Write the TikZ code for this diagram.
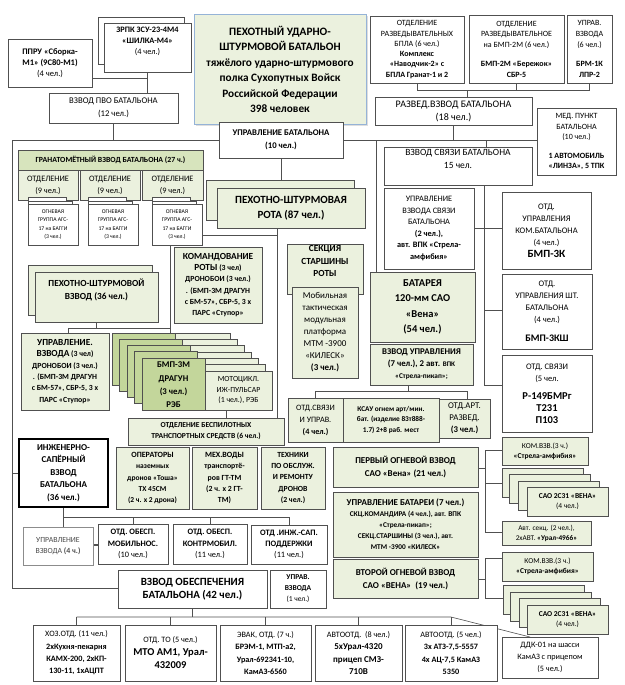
\documentclass[tikz,border=0pt]{standalone}
\usepackage{fontspec}
\setmainfont{Carlito}
\usetikzlibrary{backgrounds,shadows}
\definecolor{gl}{HTML}{EBF1DE}
\definecolor{gm}{HTML}{D7E4BD}
\definecolor{gd}{HTML}{C3D69B}
\definecolor{bd}{HTML}{505050}
\definecolor{tb}{HTML}{95B3D7}
\newcommand{\fsz}[2]{\fontsize{#1}{#2}\selectfont}
\newcommand{\obox}[7]{%
  \pgfmathsetmacro{\obw}{#4-#2}\pgfmathsetmacro{\obh}{#5-#3}%
  \node[#6, minimum width=\obw pt, minimum height=\obh pt] (#1) at ({(#2+#4)/2},{(#3+#5)/2}) {#7};}
\tikzset{
  bx/.style={draw=bd, line width=0.6pt, fill=white, align=center, inner sep=1pt, outer sep=0pt, text=black},
  wb/.style={bx},
  gb/.style={bx, fill=gl},
  mb/.style={bx, fill=gm},
  db/.style={bx, fill=gd},
  ln/.style={draw=bd, line width=0.6pt},
}
\begin{document}
\begin{tikzpicture}[x=1pt,y=-1pt]
\useasboundingbox (0,0) rectangle (624,685);

% ---------- top left
\obox{ppru}{8}{39}{92}{87}{wb,font=\fsz{8.5}{11}}{\textbf{ППРУ «Сборка-}\\\textbf{М1» (9С80-М1)}\\(4 чел.)}
\obox{zrpkb}{98}{17}{184}{64}{wb}{}
\obox{zrpk}{104}{23}{191}{72}{wb,font=\fsz{8.3}{11}}{\textbf{ЗРПК ЗСУ-23-4М4}\\\textbf{«ШИЛКА-М4»}\\(4 чел.)\\[3pt]}
\obox{pvo}{49}{93}{178}{123}{wb,font=\fsz{8.7}{13}}{ВЗВОД ПВО БАТАЛЬОНА\\(12 чел.)}

% ---------- title
\obox{title}{194}{15}{366}{124}{bx,fill=gl,draw=tb,line width=1pt,drop shadow={shadow xshift=1.5pt,shadow yshift=-1.5pt,fill=black!25},font=\fsz{11.3}{15.5}\bfseries}{ПЕХОТНЫЙ УДАРНО-\\ШТУРМОВОЙ БАТАЛЬОН\\тяжёлого ударно-штурмового\\полка Сухопутных Войск\\Российской Федерации\\398 человек}
\obox{uprbat}{219}{122}{343}{158}{wb,font=\fsz{8.7}{13}\bfseries}{УПРАВЛЕНИЕ БАТАЛЬОНА\\(10 чел.)}

% ---------- top right
\obox{bpla}{370}{16}{464}{83}{wb,font=\fsz{8}{10.3}}{ОТДЕЛЕНИЕ\\РАЗВЕДЫВАТЕЛЬНЫХ\\БПЛА (6 чел.)\\\textbf{Комплекс}\\\textbf{«Наводчик-2» с}\\\textbf{БПЛА Гранат-1 и 2}}
\obox{bmp2}{469}{15}{564}{83}{wb,font=\fsz{8}{10.5}}{ОТДЕЛЕНИЕ\\РАЗВЕДЫВАТЕЛЬНОЕ\\на БМП-2М (6 чел.)\\[9pt]\textbf{БМП-2М «Бережок»}\\\textbf{СБР-5}}
\obox{upr6}{567}{15}{612}{83}{wb,font=\fsz{8}{11}}{УПРАВ.\\ВЗВОДА\\(6 чел.)\\[8pt]\textbf{БРМ-1К}\\\textbf{ЛПР-2}}
\obox{razved}{375}{97}{532}{125}{wb,font=\fsz{10}{13}}{РАЗВЕД.ВЗВОД БАТАЛЬОНА\\(18 чел.)}
\obox{med}{537}{108}{616}{175}{wb,font=\fsz{8}{10.5}}{МЕД. ПУНКТ\\БАТАЛЬОНА\\(10 чел.)\\[8pt]\textbf{1 АВТОМОБИЛЬ}\\\textbf{«ЛИНЗА», 5 ТПК}}
\obox{svyaz}{384}{147}{532}{185}{wb,font=\fsz{9.5}{13}}{ВЗВОД СВЯЗИ БАТАЛЬОНА\\15 чел.\\[2pt]}
\obox{uvs}{384}{188}{474}{269}{wb,font=\fsz{8.3}{11.5}}{УПРАВЛЕНИЕ\\ВЗВОДА СВЯЗИ\\БАТАЛЬОНА\\\textbf{(2 чел.),}\\\textbf{авт. ВПК «Стрела-}\\\textbf{амфибия»}}
\obox{okb}{502}{192}{591}{269}{wb,font=\fsz{8.5}{12}}{ОТД.\\УПРАВЛЕНИЯ\\КОМ.БАТАЛЬОНА\\(4 чел.)\\{\fsz{11}{14}\bfseries БМП-3К}}
\obox{osh}{502}{274}{592}{349}{wb,font=\fsz{8.5}{12}}{ОТД.\\УПРАВЛЕНИЯ ШТ.\\БАТАЛЬОНА\\(4 чел.)\\[7pt]{\fsz{10}{12}\bfseries БМП-3КШ}}
\obox{ots}{502}{355}{592}{432}{wb,font=\fsz{8.5}{12}}{ОТД. СВЯЗИ\\(5 чел.\\[6pt]{\fsz{10.5}{13}\bfseries Р-149БМРг}\\{\fsz{10.5}{13}\bfseries Т231}\\{\fsz{10.5}{13}\bfseries П103}}

% ---------- battery
\obox{bat}{370}{272}{475}{342}{gb,font=\fsz{10.5}{15.5}\bfseries}{БАТАРЕЯ\\120-мм САО\\«Вена»\\(54 чел.)}
\obox{vupr}{370}{344}{473}{385}{gb,font=\fsz{8.8}{12}\bfseries}{ВЗВОД УПРАВЛЕНИЯ\\(7 чел.), 2 авт. {\fsz{7}{12}ВПК}\\{\fsz{7.3}{12}«Стрела-пикап»;}}
\obox{osu}{288}{398}{343}{442}{gb,font=\fsz{8.2}{12}}{ОТД.СВЯЗИ\\И УПРАВ.\\\textbf{(4 чел.)}}
\obox{ksau}{343}{398}{439}{442}{gb,font=\fsz{7.3}{10.5}\bfseries}{КСАУ огнем арт/мин.\\бат. (изделие 83т888-\\1.7) 2+8 раб. мест}
\obox{oar}{439}{399}{490}{438}{gb,font=\fsz{8.8}{12}}{ОТД.АРТ.\\РАЗВЕД.\\\textbf{(3 чел.)}}
\obox{perv}{333}{447}{478}{487}{gb,font=\fsz{9}{12.5}\bfseries}{ПЕРВЫЙ ОГНЕВОЙ ВЗВОД\\САО «Вена» (21 чел.)}
\obox{uprb}{333}{492}{478}{557}{gb,font=\fsz{7.3}{11}\bfseries}{{\fsz{9}{11}УПРАВЛЕНИЕ БАТАРЕИ (7 чел.)}\\СКЦ.КОМАНДИРА (4 чел.), авт. ВПК\\«Стрела-пикап»;\\СЕКЦ.СТАРШИНЫ (3 чел.), авт.\\МТМ -3900 «КИЛЕСК»}
\obox{vtor}{333}{559}{478}{598}{gb,font=\fsz{9}{13}\bfseries}{ВТОРОЙ ОГНЕВОЙ ВЗВОД\\САО «ВЕНА»~~(19 чел.)}
\obox{kv1}{502}{437}{588}{465}{gb,font=\fsz{7.5}{10}}{КОМ.ВЗВ.(3 ч.)\\\textbf{«Стрела-амфибия»}}
\foreach \a/\b [count=\n] in {502/468,509/474,518/481}{\obox{sa\n}{\a}{\b}{\a+81}{\b+29}{gb}{}}
\obox{sao1}{527}{487}{608}{516}{gb,font=\fsz{7.5}{10}}{\textbf{САО 2С31 «ВЕНА»}\\(4 чел.)}
\obox{avt}{502}{521}{591}{545}{gb,font=\fsz{7.3}{10}}{Авт. секц. (2 чел.),\\2хАВТ. \textbf{«Урал-4966»}}
\obox{kv2}{502}{552}{593}{581}{gb,font=\fsz{7.5}{10}}{КОМ.ВЗВ.(3 ч.)\\\textbf{«Стрела-амфибия»}}
\foreach \a/\b [count=\n] in {503/585,510/592,519/598}{\obox{sb\n}{\a}{\b}{\a+81}{\b+29}{gb}{}}
\obox{sao2}{527}{605}{608}{634}{gb,font=\fsz{7.5}{10}}{\textbf{САО 2С31 «ВЕНА»}\\(4 чел.)}

% ---------- grenade platoon
\obox{gran}{18}{150}{203}{170}{mb,font=\fsz{7.8}{10}\bfseries}{ГРАНАТОМЁТНЫЙ ВЗВОД БАТАЛЬОНА (27 ч.)}
\obox{otd1}{18}{170}{78}{200}{gb,font=\fsz{8.3}{12}}{ОТДЕЛЕНИЕ\\(9 чел.)}
\obox{otd2}{80}{170}{140}{200}{gb,font=\fsz{8.3}{12}}{ОТДЕЛЕНИЕ\\(9 чел.)}
\obox{otd3}{142}{170}{203}{200}{gb,font=\fsz{8.3}{12}}{ОТДЕЛЕНИЕ\\(9 чел.)}
\foreach \x [count=\n] in {28,88,152}{
  \obox{ogA\n}{\x-6}{197.5}{\x+44}{238.5}{wb}{}
  \obox{ogB\n}{\x-3}{201}{\x+47}{242}{wb}{}
  \obox{og\n}{\x}{204}{\x+50}{245}{wb,font=\fsz{5.7}{8.5}}{ОГНЕВАЯ\\ГРУППА АГС-\\17 на БАГГИ\\(3 чел.)}
}

% ---------- company
\obox{rotab}{206}{180}{354}{220}{gb}{}
\obox{rota}{217}{188}{365}{228}{gb,font=\fsz{11}{15}\bfseries}{ПЕХОТНО-ШТУРМОВАЯ\\РОТА (87 чел.)}
\obox{kom}{174}{247}{262}{323}{gb,font=\fsz{7.8}{11.3}\bfseries}{{\fsz{9.3}{12}КОМАНДОВАНИЕ}\\{\fsz{9.3}{12}РОТЫ} (3 чел)\\ДРОНОБОИ (3 чел.)\\. (БМП-3М ДРАГУН\\с БМ-57», СБР-5, 3 х\\ПАРС «Ступор»}
\obox{sekb}{287}{247}{363}{292}{gb,font=\fsz{9.3}{12.5}\bfseries}{СЕКЦИЯ\\СТАРШИНЫ\\РОТЫ\\[4pt]}
\obox{seki}{292}{287}{358}{378}{gb,font=\fsz{9}{12}}{Мобильная\\тактическая\\модульная\\платформа\\МТМ -3900\\«КИЛЕСК»\\\textbf{(3 чел.)}}

% ---------- infantry platoon
\obox{pshvb}{28}{265}{152}{315}{gb}{}
\obox{pshv}{35}{272}{158}{322}{gb}{}
\node[font=\fsz{9.3}{13}\bfseries,align=center] (pshvt) at (96.5,290) {ПЕХОТНО-ШТУРМОВОЙ\\ВЗВОД (36 чел.)};
\obox{uvz}{21}{333}{109}{410}{gb,font=\fsz{7.8}{11.3}\bfseries}{{\fsz{9.3}{12.3}УПРАВЛЕНИЕ.}\\{\fsz{9.3}{12.3}ВЗВОДА} (3 чел)\\ДРОНОБОИ (3 чел.)\\. (БМП-3М ДРАГУН\\с БМ-57», СБР-5, 3 х\\ПАРС «Ступор»}
\foreach \a/\b [count=\n] in {163/333,170/339.3,177/345.7,184/352,191/358.3,198/364.7}{\obox{ml\n}{\a}{\b}{\a+67}{\b+39}{gb}{}}
\foreach \a/\b [count=\n] in {112/333,119.5/339.25,127/345.5,134.5/351.75}{\obox{dl\n}{\a}{\b}{\a+63}{\b+52}{db}{}}
\obox{bmp}{142}{358}{205}{410}{db}{}
\begin{scope}
\clip (142,358) rectangle (205,410);
\node[font=\fsz{8.8}{13.3}\bfseries,align=center,anchor=north,inner sep=0pt] (bmpt) at (173.5,362) {БМП-3М\\ДРАГУН\\(3 чел.)\\РЭБ};
\end{scope}
\obox{moto}{205}{371}{272}{410}{gb,font=\fsz{7.8}{10.5}}{МОТОЦИКЛ.\\ИЖ-ПУЛЬСАР\\(1 чел.), РЭБ}

% ---------- drones
\obox{besp}{128}{418}{284}{445}{gb,font=\fsz{7.6}{11}\bfseries}{ОТДЕЛЕНИЕ БЕСПИЛОТНЫХ\\ТРАНСПОРТНЫХ СРЕДСТВ (6 чел.)}
\obox{oper}{116}{447}{189}{509}{gb,font=\fsz{7.5}{11.3}\bfseries}{{\fsz{8}{11.3}ОПЕРАТОРЫ}\\наземных\\дронов «Тоша»\\ТХ 45СМ\\(2 ч. х 2 дрона)}
\obox{meh}{192}{447}{257}{509}{gb,font=\fsz{7.8}{11.3}\bfseries}{{\fsz{8}{11.3}МЕХ.ВОДЫ}\\транспортё-\\ров ГТ-ТМ\\(2 ч. х 2 ГТ-\\ТМ)}
\obox{tech}{261}{447}{325}{509}{gb,font=\fsz{7.8}{11.3}\bfseries}{ТЕХНИКИ\\ПО ОБСЛУЖ.\\И РЕМОНТУ\\ДРОНОВ\\(2 чел.)}

% ---------- engineers
\obox{inzh}{19}{439}{108}{507}{wb,draw=black,line width=1.3pt,font=\fsz{9}{12.5}\bfseries}{ИНЖЕНЕРНО-\\САПЁРНЫЙ\\ВЗВОД\\БАТАЛЬОНА\\(36 чел.)}
\obox{upr4}{23}{527}{93}{565}{wb,draw=black!45,text=black!70,font=\fsz{7.8}{11}}{УПРАВЛЕНИЕ\\ВЗВОДА \textbf{(4 ч.)}}
\obox{mob}{98}{524}{168}{564}{wb,font=\fsz{8.3}{11.3}}{\textbf{ОТД. ОБЕСП.}\\\textbf{МОБИЛЬНОС.}\\(10 чел.)}
\obox{kmob}{173}{524}{247}{564}{wb,font=\fsz{8.3}{11.3}}{\textbf{ОТД. ОБЕСП.}\\\textbf{КОНТРМОБИЛ.}\\(11 чел.)}
\obox{isap}{251}{525}{327}{564}{wb,font=\fsz{8.3}{11.3}}{\textbf{ОТД .ИНЖ.-САП.}\\\textbf{ПОДДЕРЖКИ}\\(11 чел.)}

% ---------- support
\obox{obesp}{118}{570}{267}{608}{wb,font=\fsz{11}{13.5}\bfseries}{ВЗВОД ОБЕСПЕЧЕНИЯ\\БАТАЛЬОНА (42 чел.)}
\obox{upr1}{270}{570}{326}{608}{wb,font=\fsz{7.5}{11}}{\textbf{УПРАВ.}\\\textbf{ВЗВОДА}\\(1 чел.)}
\obox{hoz}{33}{625}{120}{681}{wb,font=\fsz{8.2}{12.3}}{ХОЗ.ОТД. (11 чел.)\\\textbf{2хКухня-пекарня}\\\textbf{КАМХ-200, 2хКП-}\\\textbf{130-11, 1хАЦПТ}}
\obox{tobox}{125}{625}{216}{681}{wb,font=\fsz{8.2}{13}}{ОТД. ТО (5 чел.)\\{\fsz{10.5}{15}\bfseries МТО АМ1, Урал-}\\{\fsz{10.5}{15}\bfseries 432009}}
\obox{evak}{220}{625}{311}{681}{wb,font=\fsz{8.2}{12.3}}{ЭВАК, ОТД. (7 ч.)\\\textbf{БРЭМ-1, МТП-а2,}\\\textbf{Урал-692341-10,}\\\textbf{КамАЗ-6560}}
\obox{avt8}{315}{625}{402}{681}{wb,font=\fsz{8.2}{12.3}}{АВТООТД.~ (8 чел.)\\{\fsz{9}{13}\bfseries 5хУрал-4320}\\{\fsz{9}{13}\bfseries прицеп СМЗ-}\\{\fsz{9}{13}\bfseries 710В}}
\obox{avt5}{405}{625}{497}{681}{wb,font=\fsz{8.2}{12.3}}{АВТООТД. (5 чел.)\\\textbf{3х АТЗ-7,5-5557}\\\textbf{4х АЦ-7,5 КамАЗ}\\\textbf{5350}}
\obox{ddk}{502}{637}{598}{678}{wb,font=\fsz{8.2}{12.3}}{ДДК-01 на шасси\\КамАЗ с прицепом\\(5 чел.)}

% ---------- connectors
\begin{scope}[on background layer]
\fill[white] (0,0) rectangle (624,685);
\draw[ln] (ppru.east |- 0,78) -- (zrpk.south |- 0,78);
\draw[ln] (zrpk.south) -- (pvo.north -| zrpk.south);
\draw[ln] (pvo.south) -- (pvo.south |- 0,140);
\draw[ln] (12,140) -- (med.west |- 0,140);
\draw[ln] (12,140) -- (12,588) -- (obesp.west |- 0,588);
\draw[ln] (12,473) -- (inzh.west |- 0,473);
\draw[ln] (uprbat.south) -- (rota.north -| uprbat.south);
\draw[ln] (376,140) -- (bat.north -| 376,0);
\draw[ln] (razved.south) -- (razved.south |- 0,140);
\draw[ln] (486,140) -- (svyaz.north -| 486,0);
\draw[ln] (bpla.south) -- (bpla.south |- 0,90) -- (upr6.south |- 0,90) -- (upr6.south);
\draw[ln] (bmp2.south) -- (bmp2.south |- 0,90);
\draw[ln] (467,90) -- (razved.north -| 467,0);
\draw[ln] (svyaz.south -| 484,0) -- (484,385) -- (ots.west |- 0,385);
\draw[ln] (uvs.east |- 0,228) -- (okb.west |- 0,228);
\draw[ln] (484,310) -- (osh.west |- 0,310);
\draw[ln] (vupr.south -| 408,0) -- (408,391);
\draw[ln] (osu.north -| 315,0) -- (315,391) -- (467,391) -- (oar.north -| 467,0);
\draw[ln] (485,450) -- (485,532);
\draw[ln] (485,450) -- (kv1.west |- 0,450);
\draw[ln] (perv.east |- 0,468) -- (485,468);
\draw[ln] (485,483) -- (sa1.west |- 0,483);
\draw[ln] (485,532) -- (avt.west |- 0,532);
\draw[ln] (485,558) -- (485,598);
\draw[ln] (485,558) -- (kv2.west |- 0,558);
\draw[ln] (vtor.east |- 0,579) -- (485,579);
\draw[ln] (485,598) -- (sb1.west |- 0,598);
\draw[ln] (rota.south -| 277,0) -- (besp.north -| 277,0);
\draw[ln] (170,235) -- (277,235);
\draw[ln] (170,235) -- (ml1.north -| 170,0);
\draw[ln] (pshv.south) -- (pshv.south |- 0,328);
\draw[ln] (68,328) -- (170,328);
\draw[ln] (68,328) -- (uvz.north -| 68,0);
\draw[ln] (moto.south -| 226,0) -- (besp.north -| 226,0);
\draw[ln] (inzh.south) -- (upr4.north -| inzh.south);
\draw[ln] (inzh.south |- 0,517) -- (isap.north |- 0,517);
\foreach \m in {mob,kmob,isap} \draw[ln] (\m.north |- 0,517) -- (\m.north);
\draw[ln, line width=1.5pt] (upr4.east |- 0,545) -- (mob.west |- 0,545);
\draw[ln] (obesp.south) -- (obesp.south |- 0,617);
\draw[ln] (hoz.north |- 0,617) -- (avt5.north |- 0,617) -- (ddk.north -| 530,0);
\foreach \m in {hoz,tobox,evak,avt8,avt5} \draw[ln] (\m.north) -- (\m.north |- 0,617);
\end{scope}
\end{tikzpicture}
\end{document}
